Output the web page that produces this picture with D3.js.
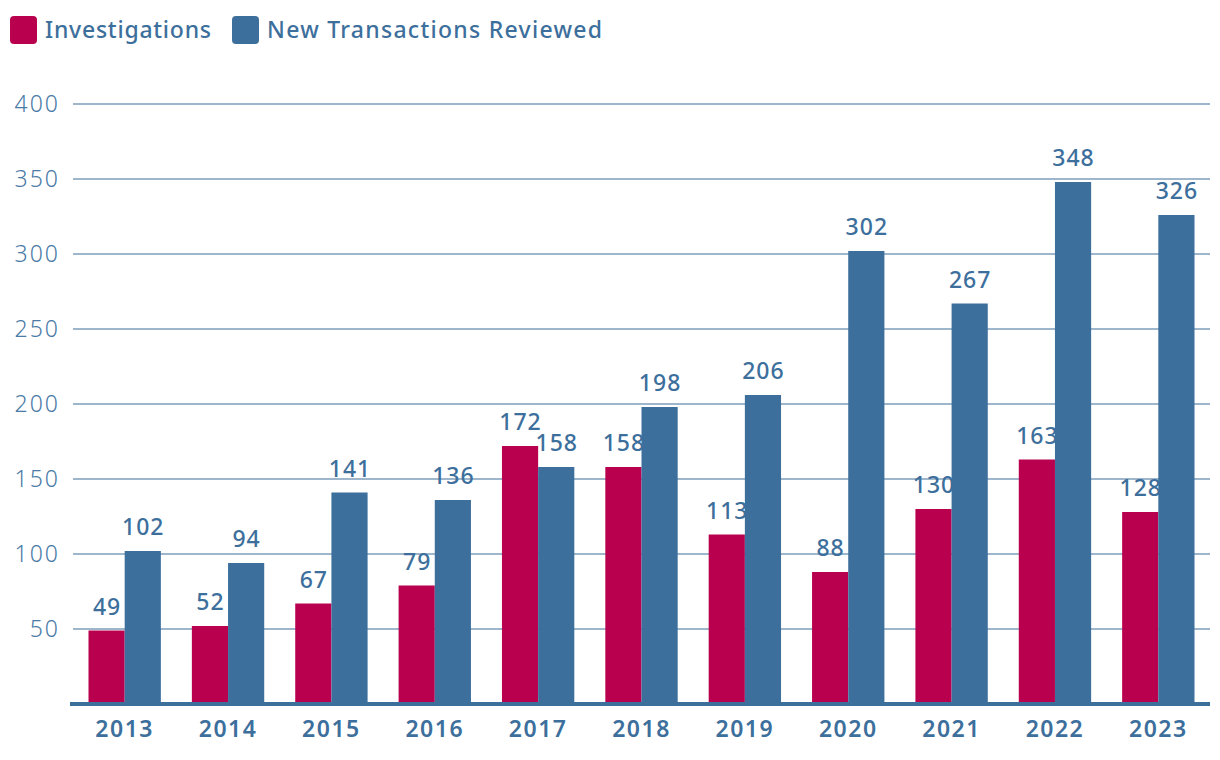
<!DOCTYPE html>
<html><head><meta charset="utf-8">
<script src="https://cdn.jsdelivr.net/npm/d3@7"></script>
<style>body{margin:0;background:#fff;} svg{display:block;font-family:"Noto Sans",Lato,sans-serif;}</style>
</head><body><svg id="c" width="1220" height="760"></svg>
<script>
const years = ["2013","2014","2015","2016","2017","2018","2019","2020","2021","2022","2023"];
const investigations = [49,52,67,79,172,158,113,88,130,163,128];
const newTransactions = [102,94,141,136,158,198,206,302,267,348,326];
const yTicks = [50,100,150,200,250,300,350,400];
const seriesNames = ["Investigations","New Transactions Reviewed"];
const colors = ["#b8004f","#3d6f9c"];

const svg = d3.select("#c");
const x = d3.scaleBand().domain(years).range([73,1210]).paddingInner(0.3).paddingOuter(0.15);
const xs = d3.scaleBand().domain([0,1]).range([0,x.bandwidth()]);
const y = d3.scaleLinear().domain([0,400]).range([704,104]);
const textCol = "#3d6f9c";

// gridlines
svg.append("g").selectAll("line").data(yTicks).join("line")
  .attr("x1",73).attr("x2",1210).attr("y1",d=>y(d)).attr("y2",d=>y(d))
  .attr("stroke","#9db6cc").attr("stroke-width",2);
svg.append("g").selectAll("text").data(yTicks).join("text")
  .attr("x",60).attr("y",d=>y(d)).attr("dy","0.35em").attr("text-anchor","end")
  .attr("fill","#4a7aa6").attr("font-size",23).attr("font-weight",300)
  .attr("letter-spacing",2).text(d=>d);

const series = [investigations,newTransactions];
series.forEach((vals,si)=>{
  const g = svg.append("g");
  g.selectAll("rect").data(vals).join("rect")
    .attr("x",(d,i)=>x(years[i])+xs(si)).attr("width",xs.bandwidth())
    .attr("y",d=>y(d)).attr("height",d=>y(0)-y(d)).attr("fill",colors[si]);
});
series.forEach((vals,si)=>{
  svg.append("g").selectAll("text").data(vals).join("text")
    .attr("x",(d,i)=>x(years[i])+xs(si)+xs.bandwidth()/2+0.5).attr("y",d=>y(d)-16)
    .attr("text-anchor","middle").attr("fill",textCol).attr("font-size",23).attr("font-weight",500)
    .attr("letter-spacing",1)
    .text(d=>d);
});

// baseline axis
svg.append("line").attr("x1",70).attr("x2",1210).attr("y1",y(0)).attr("y2",y(0))
  .attr("stroke","#3d6f9c").attr("stroke-width",4);
const xa = svg.append("g").attr("transform",`translate(0,${y(0)})`)
  .call(d3.axisBottom(x).tickSize(0).tickPadding(17));
xa.select(".domain").remove();
xa.selectAll("text").attr("fill",textCol).attr("font-size",23).attr("font-weight",600)
  .attr("letter-spacing",1.5).attr("font-family","Noto Sans, sans-serif");

// legend
const lg = svg.append("g");
const lx = [10,232];
const lw = [166,335];
seriesNames.forEach((n,i)=>{
  lg.append("rect").attr("x",lx[i]).attr("y",16).attr("width",27).attr("height",28).attr("rx",4).attr("fill",colors[i]);
  lg.append("text").attr("x",lx[i]+35).attr("y",38).attr("fill",textCol).attr("font-size",23).attr("font-weight",500)
    .attr("textLength",lw[i]).attr("lengthAdjust","spacing").text(n);
});
</script></body></html>
